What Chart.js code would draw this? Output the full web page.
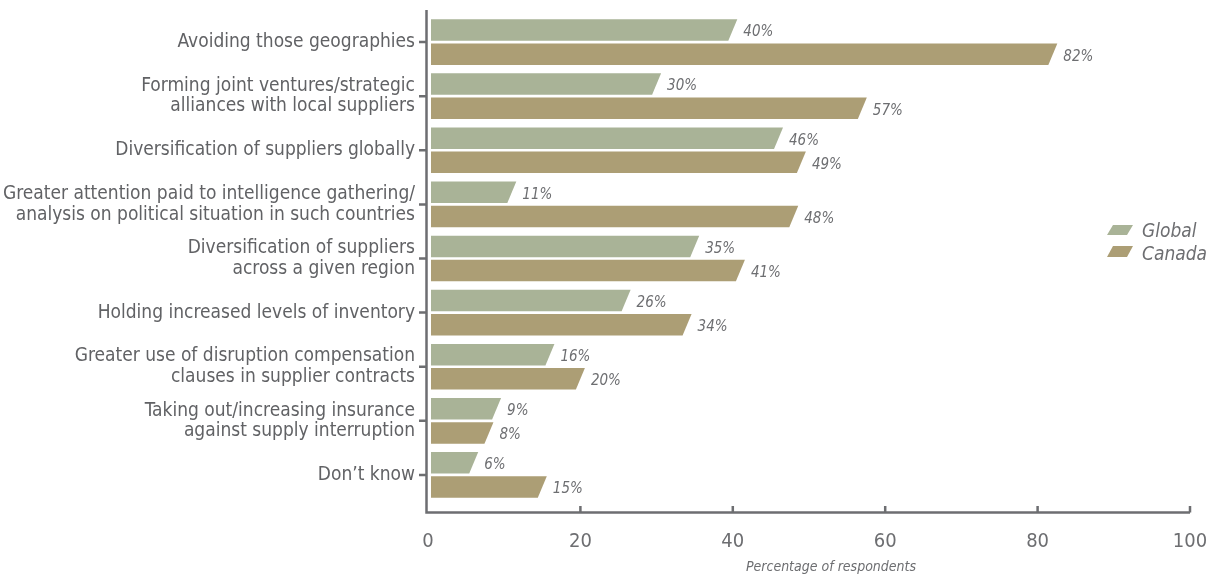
<!DOCTYPE html>
<html><head><meta charset="utf-8">
<script src="https://cdn.jsdelivr.net/npm/chart.js@4"></script>
<style>html,body{margin:0;padding:0;background:#fff}#wrap{width:1211px;height:587px}</style>
</head><body><div id="wrap"><canvas id="c" width="1211" height="587"></canvas></div>
<script>
const categories = [
  'Avoiding those geographies',
  ['Forming joint ventures/strategic', 'alliances with local suppliers'],
  'Diversification of suppliers globally',
  ['Greater attention paid to intelligence gathering/', 'analysis on political situation in such countries'],
  ['Diversification of suppliers', 'across a given region'],
  'Holding increased levels of inventory',
  ['Greater use of disruption compensation', 'clauses in supplier contracts'],
  ['Taking out/increasing insurance', 'against supply interruption'],
  'Don\u2019t know'
];
const globalValues = [40, 30, 46, 11, 35, 26, 16, 9, 6];
const canadaValues = [82, 57, 49, 48, 41, 34, 20, 8, 15];
const seriesNames = ['Global', 'Canada'];
const xTickValues = [0, 20, 40, 60, 80, 100];
const axisTitle = 'Percentage of respondents';

const COLORS = ['#a9b397', '#ac9e75'];
const FONT = "'Liberation Sans Narrow', 'Arial Narrow', 'DejaVu Sans Condensed', sans-serif";
const TEXT = '#616265';
const AXIS = '#6d6e71';
const SLANT = 9;

function para(ctx, left, right, top, bottom, s) {
  ctx.beginPath();
  ctx.moveTo(left, top);
  ctx.lineTo(right + s / 2, top);
  ctx.lineTo(right - s / 2, bottom);
  ctx.lineTo(left, bottom);
  ctx.closePath();
  ctx.fill();
}

function noPad(s) {
  s.paddingTop = 0; s.paddingBottom = 0; s.paddingLeft = 0; s.paddingRight = 0;
}

const customDraw = {
  id: 'customDraw',
  beforeDatasetDraw(chart, args) {
    const ctx = chart.ctx;
    const meta = args.meta;
    const ds = chart.data.datasets[args.index];
    ctx.save();
    meta.data.forEach((el, i) => {
      const p = el.getProps(['x', 'y', 'base', 'height'], true);
      const top = p.y - p.height / 2, bottom = p.y + p.height / 2;
      ctx.fillStyle = ds.backgroundColor;
      para(ctx, p.base + 3, p.x, top, bottom, SLANT);
      ctx.fillStyle = AXIS;
      ctx.font = 'italic 15px ' + FONT;
      ctx.textAlign = 'left';
      ctx.textBaseline = 'middle';
      ctx.fillText(ds.data[i] + '%', p.x + SLANT / 2 + 6, p.y + 2.5);
    });
    ctx.restore();
    return false;
  },
  afterDraw(chart) {
    const ctx = chart.ctx;
    const xs = chart.scales.x, ys = chart.scales.y;
    const area = chart.chartArea;
    ctx.save();
    ctx.strokeStyle = AXIS;
    ctx.lineWidth = 2.5;
    const axX = 426.5, axY = 512.5;
    ctx.beginPath();
    ctx.moveTo(axX, 10); ctx.lineTo(axX, axY + 1.25);
    ctx.moveTo(axX - 1.25, axY); ctx.lineTo(area.right, axY);
    ctx.stroke();
    ctx.beginPath();
    categories.forEach((c, i) => {
      const y = ys.getPixelForValue(i);
      ctx.moveTo(419, y); ctx.lineTo(axX, y);
    });
    xTickValues.slice(1).forEach(v => {
      const x = xs.getPixelForValue(v);
      ctx.moveTo(x, 506); ctx.lineTo(x, axY);
    });
    ctx.stroke();
    // axis title
    ctx.fillStyle = AXIS;
    ctx.font = 'italic 14px ' + FONT;
    ctx.textAlign = 'center';
    ctx.textBaseline = 'middle';
    ctx.fillText(axisTitle, 831, 567);
    // legend
    const sw = [[225, 235], [246, 257]];
    const ty = [232, 255];
    seriesNames.forEach((n, i) => {
      ctx.fillStyle = COLORS[i];
      const [t, b] = sw[i];
      ctx.beginPath();
      ctx.moveTo(1113, t); ctx.lineTo(1133, t); ctx.lineTo(1127, b); ctx.lineTo(1107, b);
      ctx.closePath(); ctx.fill();
      ctx.fillStyle = AXIS;
      ctx.font = 'italic 19px ' + FONT;
      ctx.textAlign = 'left';
      ctx.fillText(n, 1142, ty[i]);
    });
    ctx.restore();
  }
};

new Chart(document.getElementById('c'), {
  type: 'bar',
  data: {
    labels: categories,
    datasets: [
      { label: seriesNames[0], data: globalValues, backgroundColor: COLORS[0], categoryPercentage: 0.893, barPercentage: 0.89 },
      { label: seriesNames[1], data: canadaValues, backgroundColor: COLORS[1], categoryPercentage: 0.893, barPercentage: 0.89 }
    ]
  },
  options: {
    indexAxis: 'y',
    responsive: false,
    animation: false,
    devicePixelRatio: 1,
    layout: { padding: { left: 0, right: 21, top: 15, bottom: 0 } },
    plugins: { legend: { display: false }, tooltip: { enabled: false } },
    scales: {
      x: {
        min: 0, max: 100,
        afterBuildTicks(s) { s.ticks = xTickValues.map(v => ({ value: v })); },
        afterFit(s) { s.height = 85; noPad(s); },
        grid: { display: false, drawTicks: false },
        border: { display: false },
        ticks: { color: AXIS, font: { family: FONT, size: 20 }, padding: 28, maxRotation: 0 }
      },
      y: {
        afterFit(s) { s.width = 428; noPad(s); },
        grid: { display: false, drawTicks: false },
        border: { display: false },
        ticks: { color: TEXT, font: { family: FONT, size: 19, lineHeight: 1.08 }, padding: 13 }
      }
    }
  },
  plugins: [customDraw]
});
</script>
</body></html>
